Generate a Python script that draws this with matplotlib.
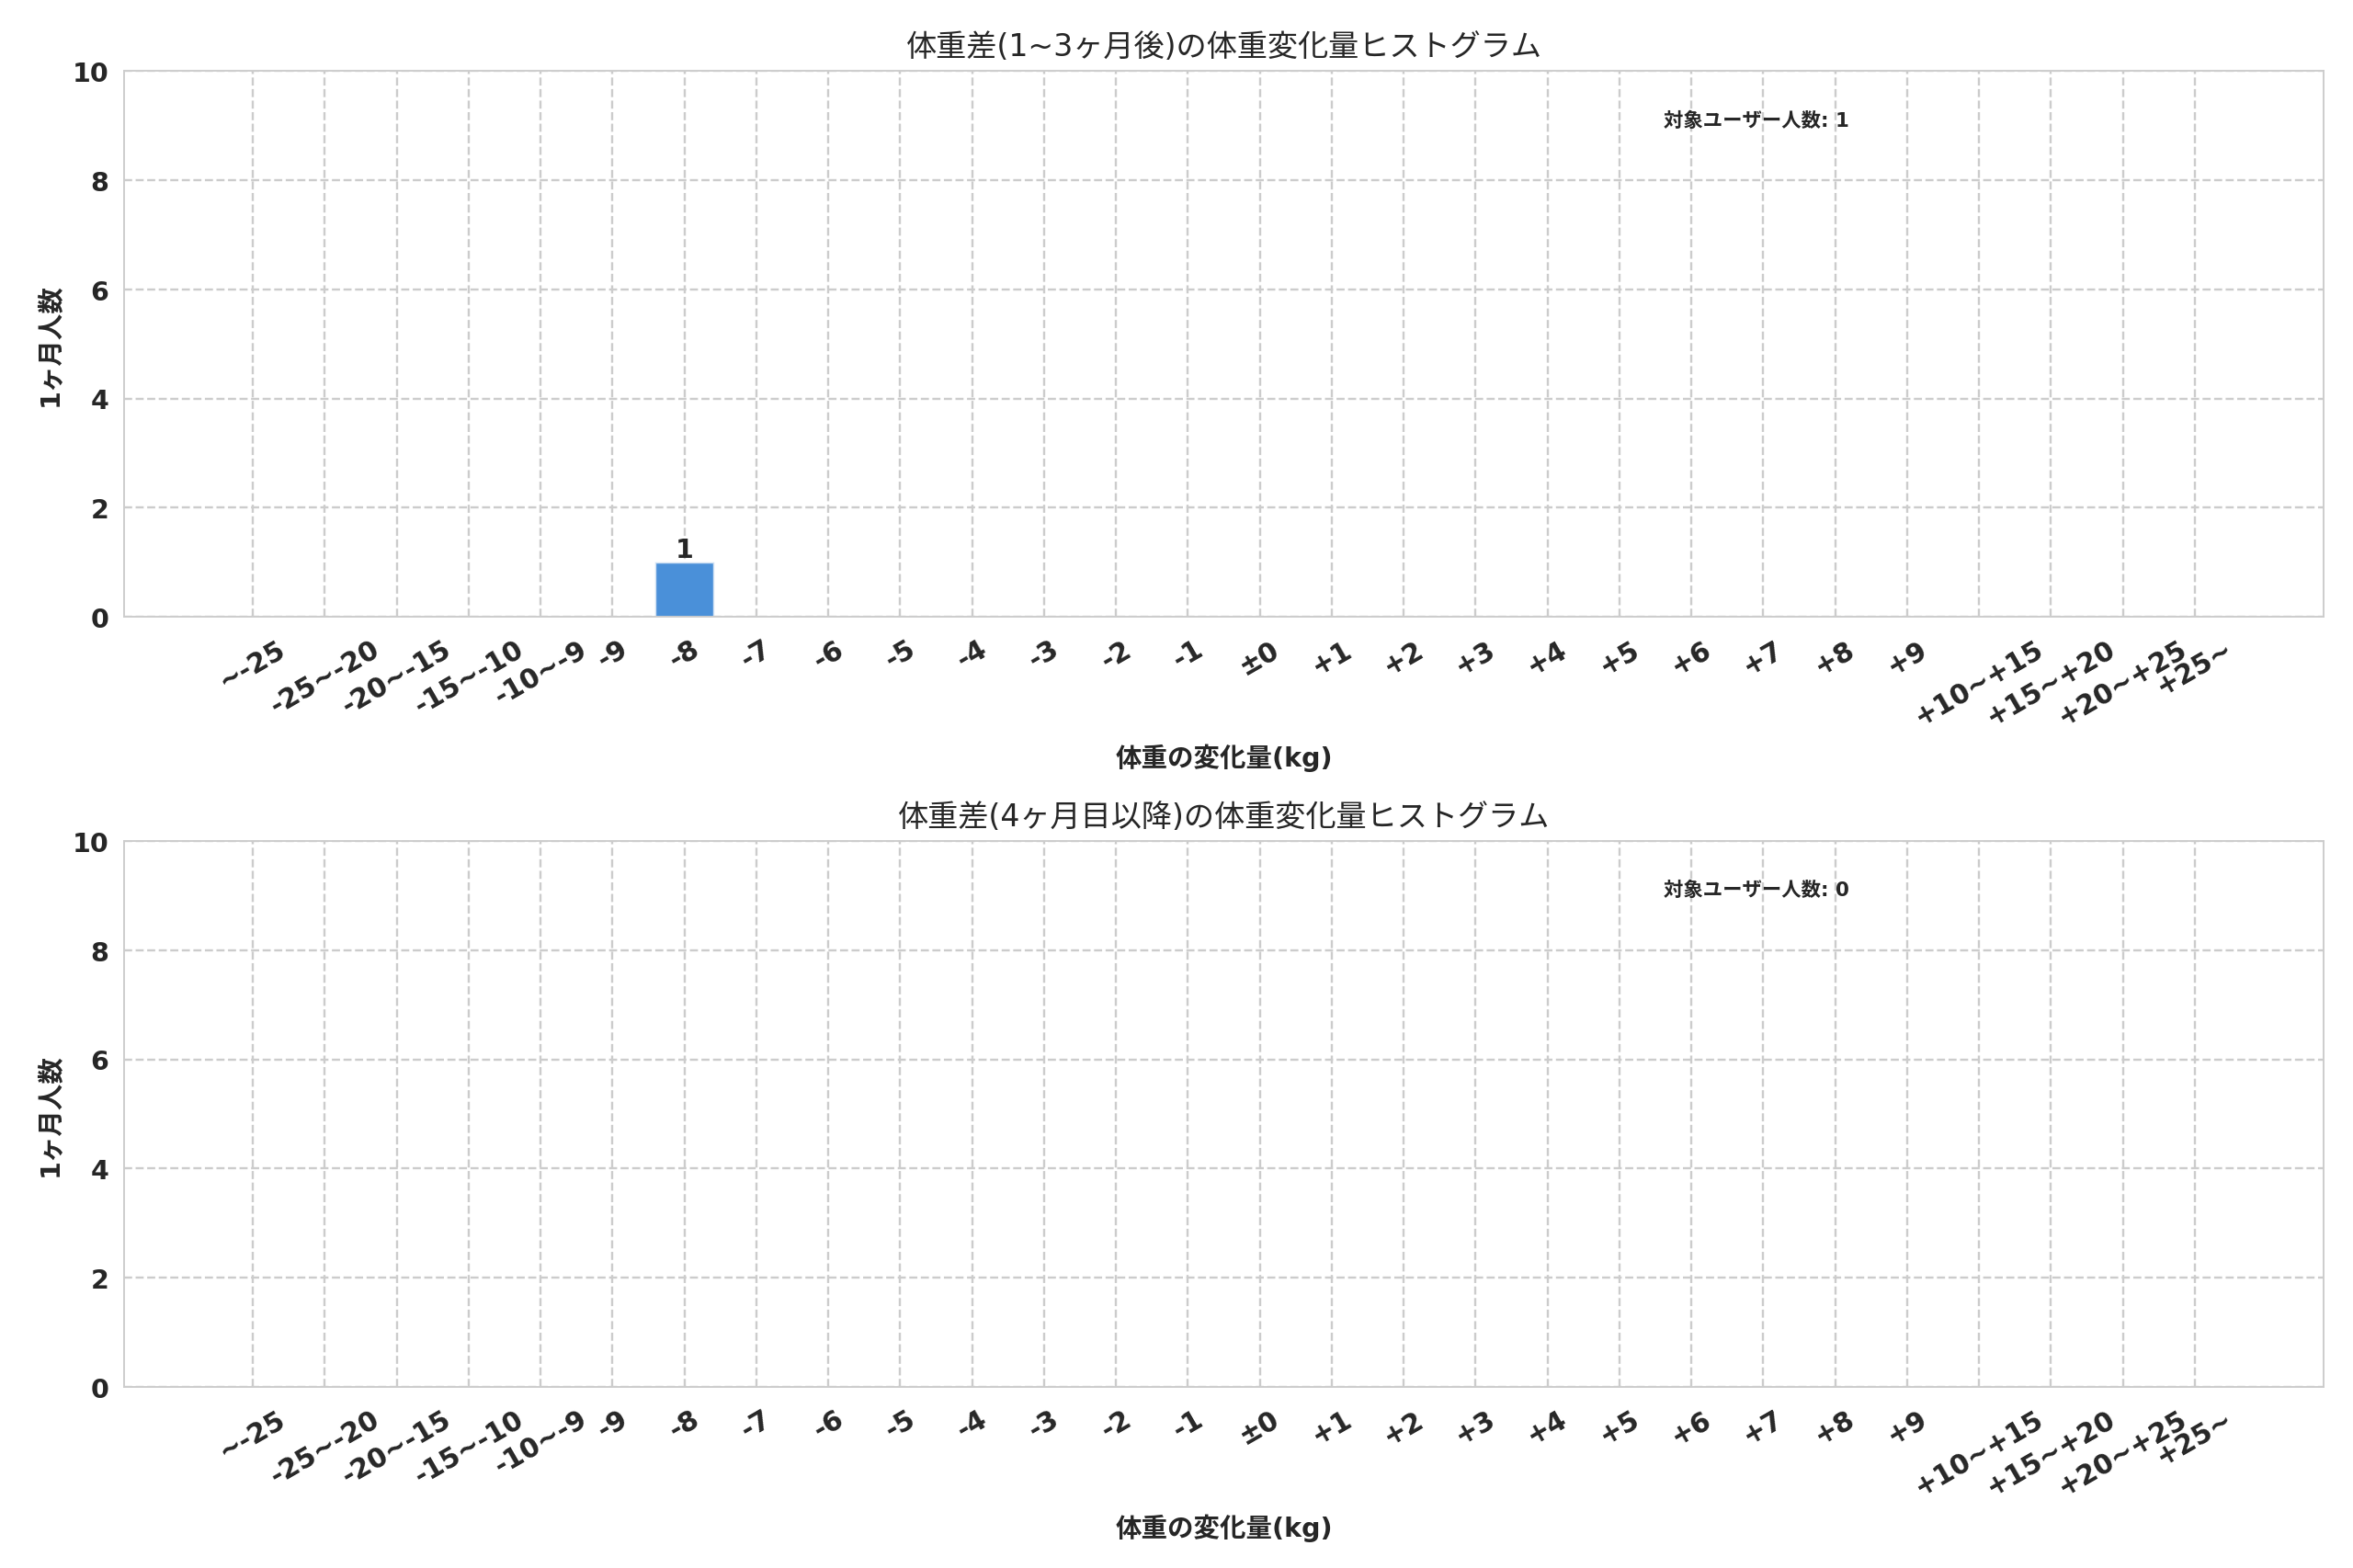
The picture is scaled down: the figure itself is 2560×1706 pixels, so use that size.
import matplotlib
matplotlib.use("Agg")
import matplotlib.pyplot as plt
import seaborn as sns

# weight change bins (kg)
categories = ["~-25", "-25~-20", "-20~-15", "-15~-10", "-10~-9", "-9", "-8", "-7",
              "-6", "-5", "-4", "-3", "-2", "-1", "±0", "+1", "+2", "+3", "+4",
              "+5", "+6", "+7", "+8", "+9", "+10~+15", "+15~+20", "+20~+25", "+25~"]

counts_short = [0, 0, 0, 0, 0, 0, 1, 0, 0, 0, 0, 0, 0, 0,
                0, 0, 0, 0, 0, 0, 0, 0, 0, 0, 0, 0, 0, 0]
counts_long = [0] * len(categories)

titles = ["体重差(1~3ヶ月後)の体重変化量ヒストグラム",
          "体重差(4ヶ月目以降)の体重変化量ヒストグラム"]
totals = [1, 0]

sns.set_style("whitegrid")
plt.rcParams["font.family"] = ["DejaVu Sans", "Noto Sans CJK JP"]

fig = plt.figure(figsize=(15, 10), dpi=2560 / 15)
axes = [fig.add_axes([0.0527, 0.6063, 0.9348, 0.348]),
        fig.add_axes([0.0527, 0.1154, 0.9348, 0.348])]

for ax, counts, title, total in zip(axes, [counts_short, counts_long], titles, totals):
    x = list(range(len(categories)))
    bars = ax.bar(x, counts, width=0.8, color="#4a90d9", edgecolor="#cfe0f3", linewidth=0.6)
    for b, c in zip(bars, counts):
        if c > 0:
            ax.text(b.get_x() + b.get_width() / 2, c, str(c), ha="center", va="bottom",
                    fontsize=12, fontweight="bold", color="#262626")
    ax.set_ylim(0, 10)
    ax.set_yticks([0, 2, 4, 6, 8, 10])
    ax.set_xticks(x)
    ax.set_xticklabels(categories, rotation=30, fontsize=12.5, fontweight="bold")
    ax.tick_params(axis="x", pad=5)
    for lbl in ax.get_yticklabels():
        lbl.set_fontsize(12)
        lbl.set_fontweight("bold")
    ax.grid(True, linestyle="--", color="#cccccc", linewidth=1.0)
    ax.set_axisbelow(True)
    ax.set_title(title, fontsize=14, pad=7)
    ax.set_xlabel("体重の変化量(kg)", fontsize=12, fontweight="bold", labelpad=6)
    ax.set_ylabel("1ヶ月人数", fontsize=12, fontweight="bold")
    ax.text(0.7, 0.91, "対象ユーザー人数: %d" % total, transform=ax.transAxes,
            fontsize=9, fontweight="bold", va="center", ha="left")
    for s in ax.spines.values():
        s.set_color("#cccccc")

fig.savefig("out.png", dpi=2560 / 15)
